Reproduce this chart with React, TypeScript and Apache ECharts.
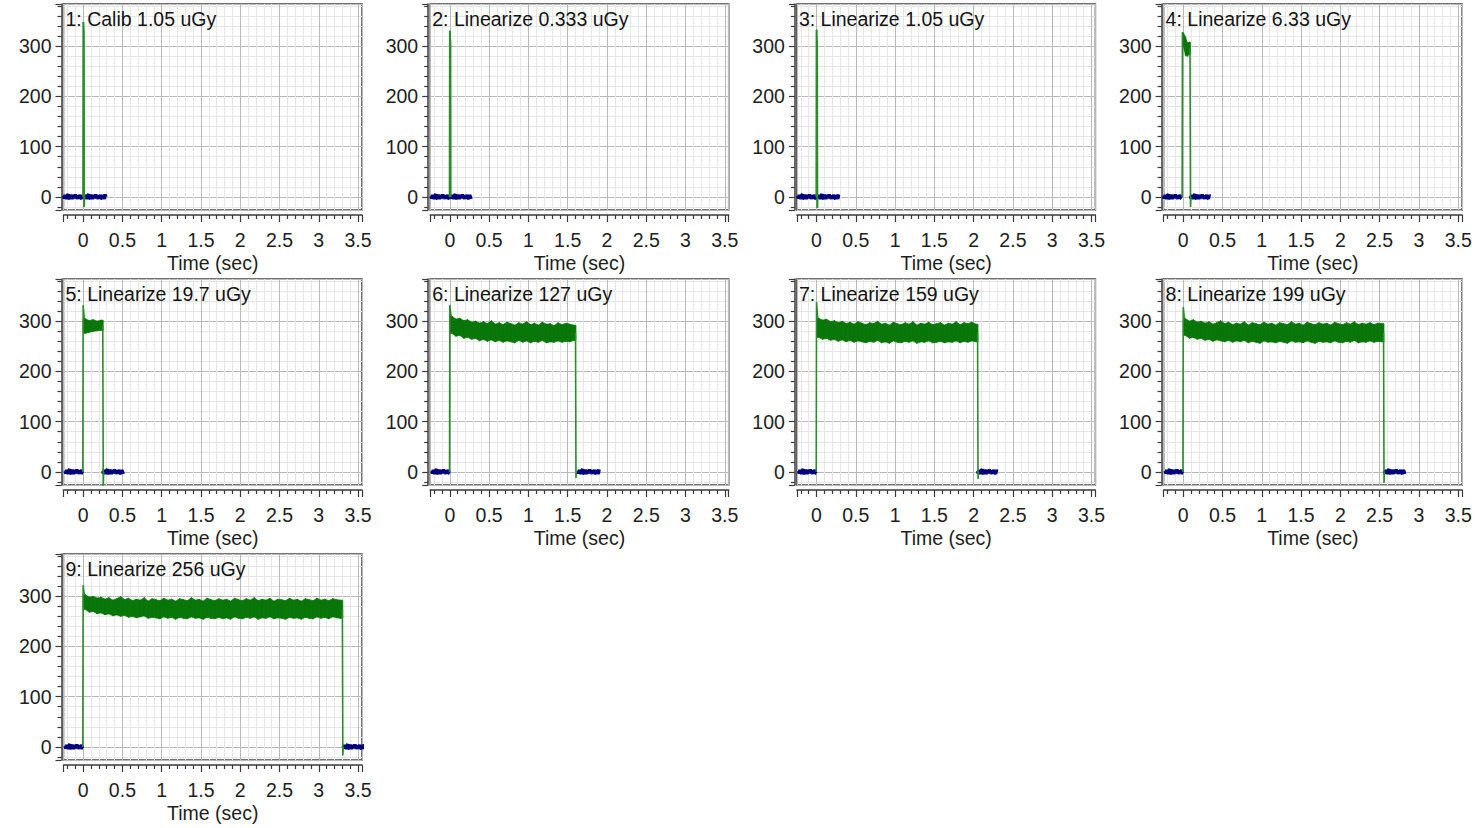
import React, { useEffect, useRef } from 'react';
import * as echarts from 'echarts';

const FONT = '"Liberation Sans", Arial, sans-serif';
const GREEN = '#087608';
const GREEN_EDGE = '#2a8c2a';
const BLUE = '#00007c';

const TITLES = [
  '1: Calib 1.05 uGy',
  '2: Linearize 0.333 uGy',
  '3: Linearize 1.05 uGy',
  '4: Linearize 6.33 uGy',
  '5: Linearize 19.7 uGy',
  '6: Linearize 127 uGy',
  '7: Linearize 159 uGy',
  '8: Linearize 199 uGy',
  '9: Linearize 256 uGy',
];

const X_MIN = -0.25;
const X_MAX = 3.55;
const Y_MIN = -26;
const Y_MAX = 384;
const X_NAME = 'Time (sec)';

// Short spikes (panels 1-3): [time, value]
const SPIKE_1 = [[0.0, 0], [0.003, 348], [0.006, 334], [0.009, 330], [0.012, -20], [0.015, 0]];
const SPIKE_2 = [[-0.002, 0], [0.001, 331], [0.004, 313], [0.007, 310], [0.01, 2], [0.013, 0]];
const SPIKE_3 = [[-0.002, 0], [0.001, 333], [0.004, 312], [0.007, 308], [0.01, -22], [0.013, 0]];

// Pulse bands (panels 4-9): upper / lower envelope of noisy plateau
const BAND4_HI = [326, 318, 306, 308];
const BAND4_LO = [300, 282, 280, 284];
const BAND5_HI = [305, 301, 303, 300, 302];
const BAND5_LO = [276, 278, 280, 281, 282];
const BAND6_HI = [310, 304, 306, 301, 303, 298, 300, 296, 299, 295, 301, 294, 297, 293, 298, 295, 292, 297, 294, 299, 293, 296, 292, 298, 294, 295, 291, 297, 293, 296, 294, 292];
const BAND6_LO = [276, 270, 272, 266, 268, 264, 266, 261, 264, 260, 263, 259, 262, 258, 261, 259, 257, 262, 258, 261, 257, 260, 258, 262, 257, 259, 258, 261, 258, 260, 259, 262];
const BAND7_HI = [306, 302, 304, 299, 301, 297, 300, 295, 298, 294, 299, 296, 293, 297, 295, 300, 294, 296, 292, 298, 295, 293, 297, 294, 299, 292, 296, 294, 298, 293, 295, 297, 292, 296, 294, 299, 293, 297, 295, 298, 294];
const BAND7_LO = [268, 264, 266, 262, 264, 260, 263, 259, 262, 258, 261, 259, 257, 260, 258, 262, 257, 259, 256, 261, 258, 257, 260, 258, 261, 256, 259, 258, 261, 257, 258, 260, 257, 259, 258, 261, 257, 260, 258, 261, 259];
const BAND8_HI = [305, 300, 303, 298, 300, 296, 299, 294, 297, 301, 295, 298, 293, 296, 294, 299, 292, 297, 295, 293, 298, 294, 296, 292, 297, 295, 293, 299, 294, 296, 292, 298, 295, 293, 297, 294, 296, 292, 298, 295, 293, 297, 294, 299, 293, 296, 294, 297, 293, 296, 295];
const BAND8_LO = [272, 266, 268, 264, 266, 262, 264, 260, 263, 261, 259, 262, 258, 261, 259, 262, 257, 260, 258, 256, 261, 258, 259, 257, 260, 258, 256, 261, 258, 259, 257, 261, 258, 256, 260, 258, 259, 257, 261, 258, 257, 260, 258, 262, 257, 259, 258, 261, 258, 260, 259];
const BAND9_HI = [303, 298, 300, 296, 298, 294, 297, 292, 295, 299, 293, 296, 291, 294, 292, 297, 290, 295, 293, 291, 296, 292, 294, 290, 295, 293, 291, 297, 292, 294, 290, 296, 293, 291, 295, 292, 294, 290, 296, 293, 291, 295, 292, 297, 291, 294, 292, 296, 290, 294, 293, 291, 296, 292, 294, 290, 295, 293, 291, 296, 292, 294, 291, 295, 293, 292];
const BAND9_LO = [274, 268, 270, 265, 267, 263, 265, 261, 263, 260, 262, 258, 260, 257, 259, 261, 256, 258, 257, 255, 259, 256, 258, 254, 258, 256, 255, 259, 256, 257, 254, 258, 256, 255, 258, 255, 257, 254, 259, 256, 255, 258, 256, 259, 254, 257, 256, 259, 255, 257, 256, 254, 258, 256, 257, 254, 258, 256, 255, 259, 256, 258, 255, 259, 257, 256];

const BAND_HI = [null, null, null, BAND4_HI, BAND5_HI, BAND6_HI, BAND7_HI, BAND8_HI, BAND9_HI];
const BAND_LO = [null, null, null, BAND4_LO, BAND5_LO, BAND6_LO, BAND7_LO, BAND8_LO, BAND9_LO];
const BAND_START = [0, 0, 0, -0.01, 0, 0, 0, 0, 0];
const BAND_STEP = [0, 0, 0, 0.024, 0.05, 0.05, 0.05, 0.05, 0.05];
const SPIKE_TOP = [0, 0, 0, 328, 332, 332, 338, 328, 322];
const UNDERSHOOT = [0, 0, 0, -20, -28, -12, -14, -22, -17];
const SPIKES = [SPIKE_1, SPIKE_2, SPIKE_3, null, null, null, null, null, null];

// Baseline (blue) segments: [start, end] in seconds
const BLUE_PRE = [[-0.25, 0], [-0.24, 0], [-0.24, 0], [-0.25, -0.02], [-0.23, 0], [-0.23, 0], [-0.23, 0], [-0.23, 0], [-0.23, 0]];
const BLUE_POST = [[0.01, 0.29], [0.01, 0.27], [0.01, 0.28], [0.09, 0.34], [0.25, 0.51], [1.63, 1.9], [2.05, 2.3], [2.56, 2.82], [3.31, 3.6]];
const BASE_NOISE = [2, -3, 4, 0, -4, 3, 5, -2, -3, 1, 4, -4, 0, 3, -2, 5, -3, 1, -4, 3, 0, 4, -2, -3, 3, 1, -4, 5, 0, -2, 3, -3];

const GRID_LEFT0 = 63.5;
const COL_STEP = 366.7;
const GRID_TOP0 = 4;
const ROW_STEP = 275;
const GRID_W = 298.5;
const GRID_H = 206;

function baseline(seg: number[]) {
  const pts: number[][] = [];
  const n = Math.round((seg[1] - seg[0]) / 0.01);
  for (let k = 0; k <= n; k++) {
    pts.push([seg[0] + k * 0.01, BASE_NOISE[k % BASE_NOISE.length]]);
  }
  return pts;
}

function bandItems(hi: number[], lo: number[], start: number, step: number) {
  const end = start + hi.length * step;
  const pts: number[][] = [[start, lo[0], hi[0]]];
  hi.forEach((h, k) => pts.push([start + (k + 0.5) * step, lo[k], h]));
  pts.push([end, lo[lo.length - 1], hi[hi.length - 1]]);
  const items: number[][] = [];
  for (let k = 0; k < pts.length - 1; k++) {
    items.push([pts[k][0], pts[k][1], pts[k][2], pts[k + 1][0], pts[k + 1][1], pts[k + 1][2]]);
  }
  return items;
}

function buildOption() {
  const grids: any[] = [];
  const xAxes: any[] = [];
  const yAxes: any[] = [];
  const titles: any[] = [];
  const series: any[] = [];
  const axisColor = '#3a3a3a';
  const labelStyle = { fontSize: 19.5, color: '#1e1e1e', fontFamily: FONT };

  for (let i = 0; i < 9; i++) {
    const c = i % 4;
    const r = Math.floor(i / 4);
    const left = GRID_LEFT0 + c * COL_STEP;
    const top = GRID_TOP0 + r * ROW_STEP;
    grids.push({
      left, top, width: GRID_W, height: GRID_H,
      show: true, borderColor: '#454545', borderWidth: 1.5, backgroundColor: '#fff',
    });
    titles.push({
      text: TITLES[i], left: left + 2, top: top + 5, padding: 0,
      textStyle: { fontSize: 19.5, fontWeight: 'normal', color: '#141414', fontFamily: FONT },
    });
    xAxes.push({
      type: 'value', gridIndex: i, min: X_MIN, max: X_MAX, splitNumber: 8, offset: 5,
      axisLine: { show: true, onZero: false, lineStyle: { color: axisColor, width: 1.5 } },
      axisTick: { show: true, length: 7, lineStyle: { color: axisColor, width: 1.2 } },
      minorTick: { show: true, splitNumber: 5, length: 4, lineStyle: { color: axisColor, width: 1.2 } },
      splitLine: { show: true, lineStyle: { color: '#b9b9b9', width: 1 } },
      minorSplitLine: { show: true, lineStyle: { color: '#e6e6e6', width: 1 } },
      axisLabel: { show: true, showMinLabel: false, showMaxLabel: false, margin: 15, ...labelStyle },
      name: X_NAME, nameLocation: 'middle', nameGap: 38, nameTextStyle: labelStyle,
    });
    yAxes.push({
      type: 'value', gridIndex: i, min: Y_MIN, max: Y_MAX, splitNumber: 4, offset: 2,
      axisLine: { show: true, onZero: false, lineStyle: { color: axisColor, width: 1.5 } },
      axisTick: { show: true, length: 6, lineStyle: { color: axisColor, width: 1.2 } },
      minorTick: { show: true, splitNumber: 5, length: 4, lineStyle: { color: axisColor, width: 1.2 } },
      splitLine: { show: true, lineStyle: { color: '#b9b9b9', width: 1 } },
      minorSplitLine: { show: true, lineStyle: { color: '#e6e6e6', width: 1 } },
      axisLabel: { show: true, showMinLabel: false, showMaxLabel: false, margin: 10, ...labelStyle },
    });

    [BLUE_PRE[i], BLUE_POST[i]].forEach((seg) => {
      series.push({
        type: 'line', xAxisIndex: i, yAxisIndex: i, data: baseline(seg), symbol: 'none',
        lineStyle: { color: BLUE, width: 3.5 }, silent: true, z: 3,
      });
    });

    const spike = SPIKES[i];
    if (spike) {
      series.push({
        type: 'line', xAxisIndex: i, yAxisIndex: i, data: spike, symbol: 'none',
        lineStyle: { color: GREEN_EDGE, width: 2 }, silent: true, z: 4,
      });
    } else {
      const hi = BAND_HI[i] as number[];
      const lo = BAND_LO[i] as number[];
      const step = BAND_STEP[i];
      const start = BAND_START[i];
      const end = start + hi.length * step;
      series.push({
        type: 'custom', xAxisIndex: i, yAxisIndex: i, coordinateSystem: 'cartesian2d',
        data: bandItems(hi, lo, start, step), encode: { x: [0, 3], y: [1, 2, 4, 5] }, silent: true, z: 4,
        renderItem: (_p: any, api: any) => {
          const a1 = api.coord([api.value(0), api.value(2)]);
          const b1 = api.coord([api.value(3), api.value(5)]);
          const b2 = api.coord([api.value(3), api.value(4)]);
          const a2 = api.coord([api.value(0), api.value(1)]);
          return {
            type: 'polygon',
            shape: { points: [a1, [b1[0] + 0.4, b1[1]], [b2[0] + 0.4, b2[1]], a2] },
            style: { fill: GREEN, stroke: GREEN, lineWidth: 0.8 },
          };
        },
      });
      series.push({
        type: 'line', xAxisIndex: i, yAxisIndex: i, symbol: 'none',
        data: [[start - 0.004, 0], [start, SPIKE_TOP[i]], [start + step * 0.3, hi[0]]],
        lineStyle: { color: GREEN_EDGE, width: 1.6 }, silent: true, z: 5,
      });
      const last = hi.length - 1;
      series.push({
        type: 'line', xAxisIndex: i, yAxisIndex: i, symbol: 'none',
        data: [[end, (hi[last] + lo[last]) / 2], [end + 0.006, UNDERSHOOT[i]], [end + 0.012, 0]],
        lineStyle: { color: GREEN_EDGE, width: 1.6 }, silent: true, z: 5,
      });
    }
  }

  return {
    animation: false,
    backgroundColor: '#ffffff',
    title: titles,
    grid: grids,
    xAxis: xAxes,
    yAxis: yAxes,
    series,
  };
}

export default function App() {
  const ref = useRef<HTMLDivElement>(null);
  useEffect(() => {
    if (!ref.current) return;
    const chart = echarts.init(ref.current, undefined, { renderer: 'svg' });
    chart.setOption(buildOption() as any);
    return () => chart.dispose();
  }, []);
  return (
    <div
      ref={ref}
      style={{ position: 'absolute', left: 0, top: 0, width: 1484, height: 828, background: '#fff' }}
    />
  );
}
